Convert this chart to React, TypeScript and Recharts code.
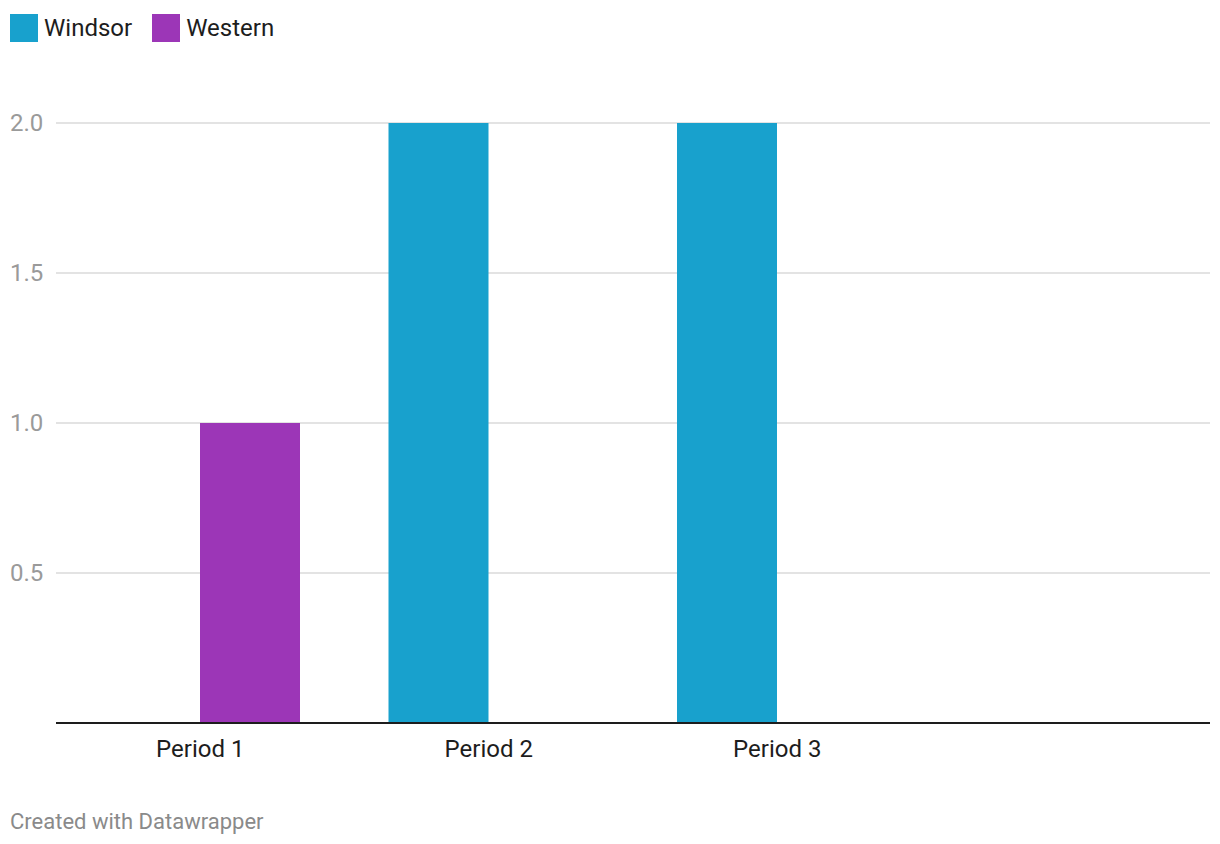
import React from "react";
import { BarChart, Bar, XAxis, YAxis, CartesianGrid } from "recharts";

const categories = ["Period 1", "Period 2", "Period 3", ""];
const windsorValues = [0, 2, 2, 0];
const westernValues = [1, 0, 0, 0];
const yTicks = [0.5, 1, 1.5, 2];

const seriesNames = ["Windsor", "Western"];
const seriesColors = ["#18a1cd", "#9c36b7"];

const data = categories.map((c, i) => ({
  name: c,
  Windsor: windsorValues[i],
  Western: westernValues[i],
}));

const FONT = "Roboto, 'Noto Sans', sans-serif";

const YTick = (props: any) => {
  const { y, payload } = props;
  return (
    <text x={10} y={y} dy={8} textAnchor="start" fontSize={24} fill="#9a9a9a" fontFamily={FONT}>
      {payload.value.toFixed(1)}
    </text>
  );
};

const XTick = (props: any) => {
  const { x, y, payload } = props;
  return (
    <text x={x} y={y} dy={26} textAnchor="middle" fontSize={24} fill="#1d1d1d" fontFamily={FONT}>
      {payload.value}
    </text>
  );
};

export default function App() {
  return (
    <div style={{ position: "absolute", left: 0, top: 0, width: 1220, height: 844, background: "#fff", fontFamily: FONT }}>
      <div style={{ position: "absolute", left: 10, top: 14, display: "flex", alignItems: "center" }}>
        {seriesNames.map((n, i) => (
          <div key={n} style={{ display: "flex", alignItems: "center", marginRight: 20 }}>
            <div style={{ width: 28, height: 28, background: seriesColors[i], marginRight: 6 }} />
            <span style={{ fontSize: 24, color: "#1d1d1d", lineHeight: "28px" }}>{n}</span>
          </div>
        ))}
      </div>
      <div style={{ position: "absolute", left: 0, top: 0 }}>
        <BarChart
          width={1220}
          height={844}
          data={data}
          margin={{ top: 123, right: 10, bottom: 81, left: 0 }}
          barCategoryGap={44}
          barGap={0}
        >
          <CartesianGrid horizontal={true} vertical={false} stroke="#e3e3e3" strokeWidth={2} />
          <YAxis
            width={56}
            domain={[0, 2]}
            ticks={yTicks}
            axisLine={false}
            tickLine={false}
            tick={<YTick />}
          />
          <XAxis
            dataKey="name"
            height={40}
            axisLine={{ stroke: "#1d1d1d", strokeWidth: 2 }}
            tickLine={false}
            tick={<YTickX />}
            interval={0}
          />
          <Bar dataKey="Windsor" fill={seriesColors[0]} isAnimationActive={false} />
          <Bar dataKey="Western" fill={seriesColors[1]} isAnimationActive={false} />
        </BarChart>
      </div>
      <div style={{ position: "absolute", left: 10, top: 809, fontSize: 22, color: "#8a8a8a" }}>
        Created with Datawrapper
      </div>
    </div>
  );
}

function YTickX(props: any) {
  return <XTick {...props} />;
}
